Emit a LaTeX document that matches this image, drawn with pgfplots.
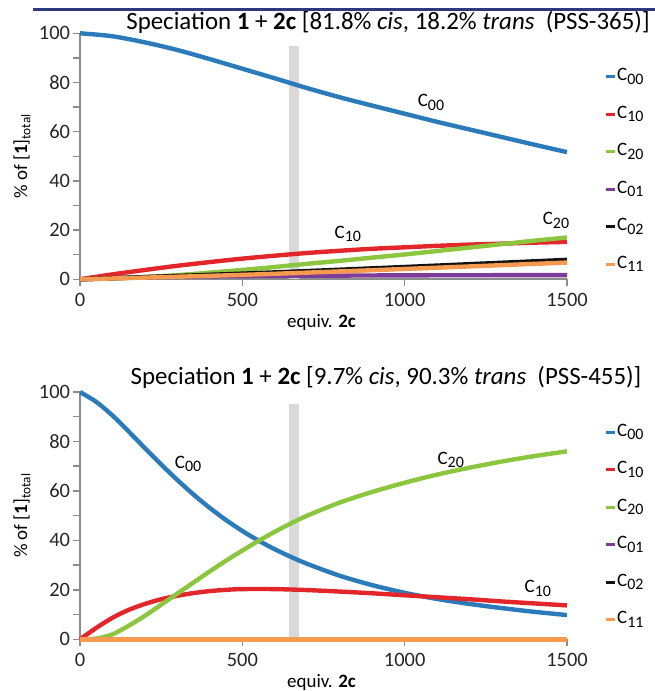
\documentclass[border=0pt]{standalone}
\usepackage{fontspec}
\setmainfont{Carlito}
\usepackage{pgfplots}
\pgfplotsset{compat=1.18}
\definecolor{c00}{HTML}{2B7BBA}
\definecolor{c10}{HTML}{E3262A}
\definecolor{c20}{HTML}{8CC63E}
\definecolor{c01}{HTML}{7D3C98}
\definecolor{c02}{HTML}{111111}
\definecolor{c11}{HTML}{F59A4E}
\definecolor{band}{HTML}{D9D9D9}
\definecolor{axgray}{HTML}{8C8C8C}
\definecolor{rulec}{HTML}{2C3A7C}

% species name: C with a large, lowered index
\newcommand{\cc}[1]{C\raisebox{-3.5bp}{\fontsize{16}{16}\selectfont #1}}
\tikzset{lab/.style={font=\fontsize{19}{20}\selectfont}}
\pgfplotsset{
  spec/.style={
    scale only axis, width=487bp,
    xmin=0, xmax=1500, ymin=0, ymax=100,
    axis x line=bottom, axis y line=left,
    axis line style={axgray, line width=2.2bp, -},
    tick style={axgray, line width=1.4bp},
    tick align=outside, major tick length=6.5bp, minor tick length=6.5bp,
    xtick={0,500,1000,1500}, ytick={0,20,...,100}, minor ytick={10,30,...,90},
    ticklabel style={font=\fontsize{20.5}{22}\selectfont, text=black!85},
    xticklabel style={yshift=-4bp},
    /pgf/number format/assume math mode=true,
    /pgf/number format/1000 sep={},
    xlabel={equiv. \textbf{2c}}, ylabel={\% of [\textbf{1}]\textsubscript{total}},
    every axis y label/.style={at={(axis description cs:-0.119,0.5)}, rotate=90, anchor=center,
      font=\fontsize{19}{21}\selectfont},
    every axis x label/.style={at={(axis description cs:0.496,0)}, yshift=-43.5bp, anchor=center,
      font=\fontsize{19}{21}\selectfont},
    clip=false,
    legend cell align=left,
    legend style={draw=none, fill=none, anchor=north west, inner sep=0pt,
      font=\fontsize{19}{20}\selectfont,
      nodes={inner sep=0pt, text height=13bp, text depth=5bp},
      row sep=19.5bp, /tikz/every odd column/.style={column sep=1bp}},
    legend image code/.code={\draw[#1, line width=3bp] (0bp,0bp) -- (9bp,0bp);},
    every axis plot/.append style={line width=4.4bp, smooth, line join=round},
  },
}

\begin{document}
\begin{tikzpicture}
\useasboundingbox (0bp,0bp) rectangle (655bp,691bp);
\draw[rulec, line width=3bp] (33bp,681bp) -- (655bp,681bp);

% top panel: PSS-365
\begin{axis}[spec, height=246bp, at={(80bp,411.7bp)}, anchor=south west,
  legend style={at={(rel axis cs:1.076,0.86)}}]
\addplot[fill=band, draw=none, sharp plot, forget plot] coordinates {(643,0) (643,95) (675,95) (675,0)} -- cycle;
\addplot[c00] coordinates {(0,100) (100,98.8) (200,96.3) (300,93.2) (400,89.5) (500,85.6) (600,81.7) (700,77.7) (800,74) (900,70.6) (1000,67.3) (1100,64) (1200,60.9) (1300,57.8) (1400,54.7) (1500,51.7)};
\addplot[c10] coordinates {(0,0) (100,2) (200,3.8) (300,5.5) (400,7) (500,8.4) (600,9.6) (700,10.7) (800,11.6) (900,12.4) (1000,13) (1100,13.6) (1200,14.1) (1300,14.5) (1400,14.9) (1500,15.2)};
\addplot[c20] coordinates {(0,0) (100,0.3) (200,0.9) (300,1.7) (400,2.7) (500,3.8) (600,5) (700,6.3) (800,7.5) (900,8.8) (1000,10.1) (1100,11.5) (1200,12.9) (1300,14.3) (1400,15.7) (1500,17)};
\addplot[c01] coordinates {(0,0) (200,0.8) (500,1.3) (1000,1.6) (1500,1.7)};
\addplot[c02] coordinates {(0,0) (500,2.3) (1000,5) (1500,7.9)};
\addplot[c11] coordinates {(0,0) (500,1.8) (1000,4.2) (1500,6.8)};
\legend{\cc{00}, \cc{10}, \cc{20}, \cc{01}, \cc{02}, \cc{11}}
\node[lab] at (axis cs:1081,72) {\cc{00}};
\node[lab] at (axis cs:825,18.5) {\cc{10}};
\node[lab] at (axis cs:1466,24) {\cc{20}};
\end{axis}

% bottom panel: PSS-455
\begin{axis}[spec, height=247.3bp, at={(80bp,51.7bp)}, anchor=south west,
  legend style={at={(rel axis cs:1.076,0.875)}}]
\addplot[fill=band, draw=none, sharp plot, forget plot] coordinates {(643,0) (643,95) (675,95) (675,0)} -- cycle;
\addplot[c00] coordinates {(0,100) (50,96) (100,90.5) (150,84) (200,77.3) (250,70.7) (300,64.4) (350,58.5) (400,53.1) (450,48.2) (500,43.8) (550,39.9) (600,36.4) (650,33.3) (700,30.5) (800,25.7) (900,21.9) (1000,18.8) (1100,16.3) (1200,14.3) (1300,12.6) (1400,11.1) (1500,9.8)};
\addplot[c10] coordinates {(0,0) (50,4.6) (100,8.7) (150,11.9) (200,14.3) (250,16.2) (300,17.6) (350,18.7) (400,19.5) (450,20) (500,20.3) (600,20.3) (700,19.9) (800,19.3) (900,18.6) (1000,17.8) (1100,17) (1200,16.2) (1300,15.3) (1400,14.5) (1500,13.7)};
\addplot[c20] coordinates {(0,0) (50,0.3) (100,2) (150,5.5) (200,9.5) (250,14) (300,18.5) (350,23) (400,27.5) (450,31.8) (500,35.9) (550,39.8) (600,43.5) (650,46.9) (700,50) (800,55.3) (900,59.6) (1000,63.3) (1100,66.6) (1200,69.4) (1300,71.9) (1400,74.1) (1500,76)};
\addplot[c01] coordinates {(0,0) (500,0) (1000,0) (1500,0)};
\addplot[c02] coordinates {(0,0) (500,0) (1000,0) (1500,0)};
\addplot[c11] coordinates {(0,0) (500,0) (1000,0) (1500,0)};
\legend{\cc{00}, \cc{10}, \cc{20}, \cc{01}, \cc{02}, \cc{11}}
\node[lab] at (axis cs:333,71) {\cc{00}};
\node[lab] at (axis cs:1142,72.5) {\cc{20}};
\node[lab] at (axis cs:1410,20.5) {\cc{10}};
\end{axis}

\node[font=\fontsize{25}{28}\selectfont] at (388bp,669bp) {Speciation \textbf{1} + \textbf{2c} [81.8\% \textit{cis}, 18.2\% \textit{trans}~ (PSS-365)]};
\node[font=\fontsize{25}{28}\selectfont] at (386bp,314bp) {Speciation \textbf{1} + \textbf{2c} [9.7\% \textit{cis}, 90.3\% \textit{trans}~ (PSS-455)]};
\end{tikzpicture}
\end{document}
